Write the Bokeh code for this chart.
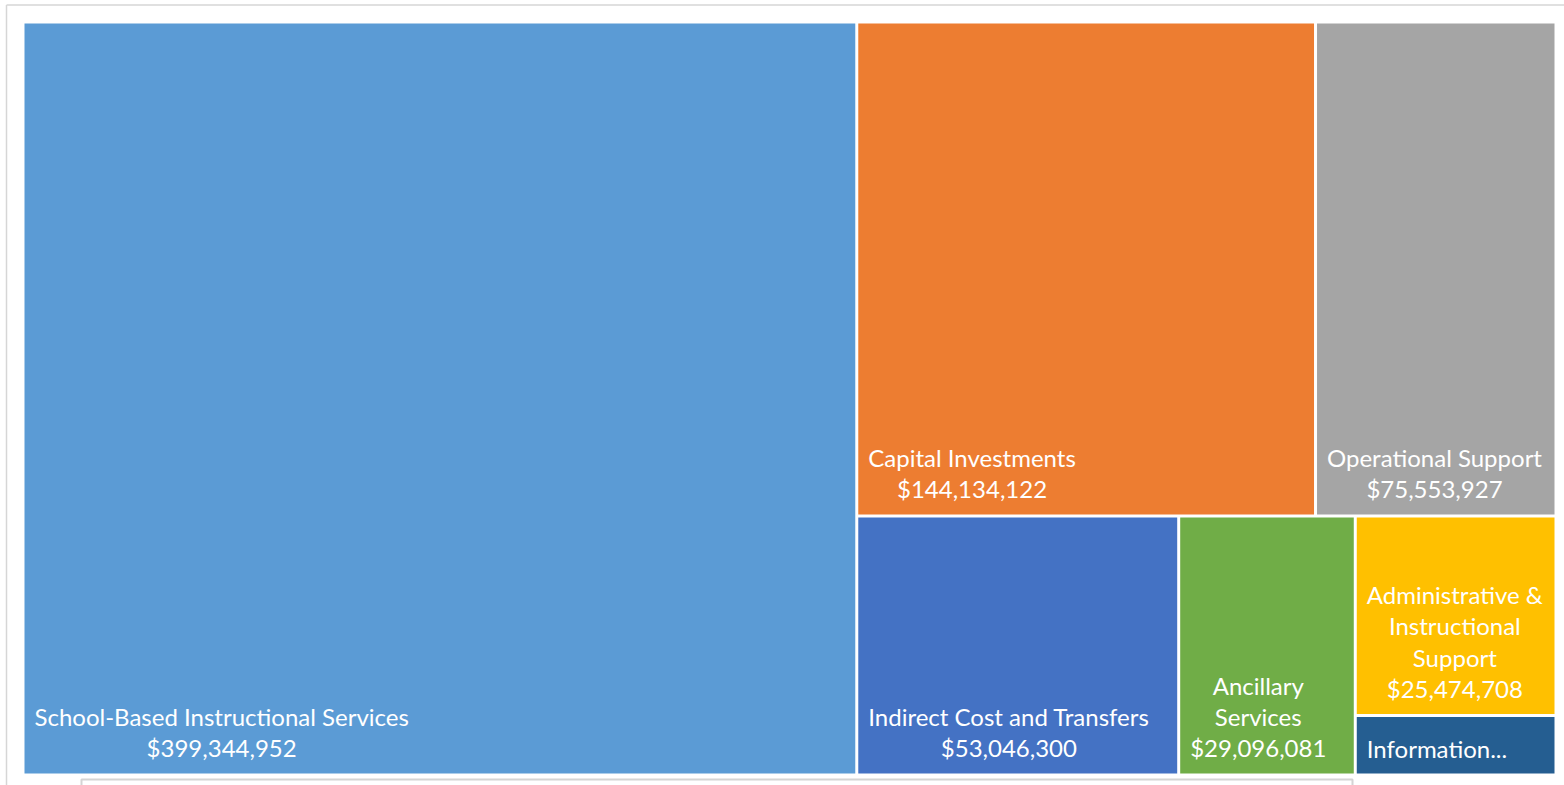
from bokeh.plotting import figure
from bokeh.models import Range1d, ColumnDataSource
from bokeh.core.properties import value
from bokeh.embed import file_html
from bokeh.resources import INLINE

# ---- data ----
categories = [
    "School-Based Instructional Services",
    "Capital Investments",
    "Operational Support",
    "Indirect Cost and Transfers",
    "Ancillary Services",
    "Administrative & Instructional Support",
    "Information...",
]
amounts = [399344952, 144134122, 75553927, 53046300, 29096081, 25474708, 7600000]
show_amount = [True, True, True, True, True, True, False]
label_lines = [
    "School-Based Instructional Services",
    "Capital Investments",
    "Operational Support",
    "Indirect Cost and Transfers",
    "Ancillary\nServices",
    "Administrative &\nInstructional\nSupport",
    "Information...",
]
colors = ["#5B9BD5", "#ED7D31", "#A5A5A5", "#4472C4", "#70AD47", "#FFC000", "#255E91"]

# ---- page geometry (screen pixels) ----
PW, PH = 1564, 785
GAP = 3.0
AX0, AY0, AW, AH = 24 - GAP / 2, 23 - GAP / 2, 1530 + GAP, 750 + GAP


def worst(row, side):
    s = sum(row)
    return max(max(side * side * r / (s * s), (s * s) / (side * side * r)) for r in row)


def squarify(vals, x, y, w, h):
    total = sum(vals)
    vals = [v * w * h / total for v in vals]
    rects = []
    while vals:
        short = min(w, h)
        row = [vals[0]]
        i = 1
        while i < len(vals) and worst(row + [vals[i]], short) <= worst(row, short):
            row.append(vals[i])
            i += 1
        s = sum(row)
        if w >= h:
            cw = s / h
            yy = y
            for v in row:
                rh = v / cw
                rects.append((x, yy, cw, rh))
                yy += rh
            x += cw
            w -= cw
        else:
            rh = s / w
            xx = x
            for v in row:
                rw = v / rh
                rects.append((xx, y, rw, rh))
                xx += rw
            y += rh
            h -= rh
        vals = vals[i:]
    return rects


rects = squarify(amounts, AX0, AY0, AW, AH)
left = [r[0] + GAP / 2 for r in rects]
right = [r[0] + r[2] - GAP / 2 for r in rects]
top = [r[1] + GAP / 2 for r in rects]
bottom = [r[1] + r[3] - GAP / 2 for r in rects]

texts = []
for lab, amt, show in zip(label_lines, amounts, show_amount):
    texts.append(lab + ("\n${:,}".format(amt) if show else ""))

src = ColumnDataSource(dict(left=left, right=right, top=top, bottom=bottom,
                            color=colors, text=texts, name=categories))

p = figure(width=PW, height=PH, output_backend="svg", toolbar_location=None,
           x_range=Range1d(0, PW), y_range=Range1d(PH, 0),
           x_axis_type=None, y_axis_type=None,
           min_border_left=0, min_border_right=0, min_border_top=0, min_border_bottom=0)
p.xgrid.visible = False
p.ygrid.visible = False
p.outline_line_color = None
p.background_fill_color = "white"
p.border_fill_color = "white"

# faint chart-area frame and the partial element below the chart
p.segment(x0=[6, 6], y0=[4.5, 4.5], x1=[PW, 6], y1=[4.5, PH],
          line_color="#d6d6d6", line_width=1.5)
p.quad(left=[81], right=[1352], top=[779], bottom=[PH + 5],
       fill_color=None, line_color="#d4d4d4", line_width=2)

p.quad(left="left", right="right", top="top", bottom="bottom", source=src,
       fill_color="color", line_color=None)

p.text(x="left", y="bottom", text="text", source=src,
       x_offset=10, y_offset=-11, anchor="bottom_left",
       text_align="center", text_baseline="bottom",
       text_color="white", text_font=value("Lato"), text_font_size="24px",
       text_line_height=1.08)

open("out.html", "w").write(file_html(p, INLINE))
